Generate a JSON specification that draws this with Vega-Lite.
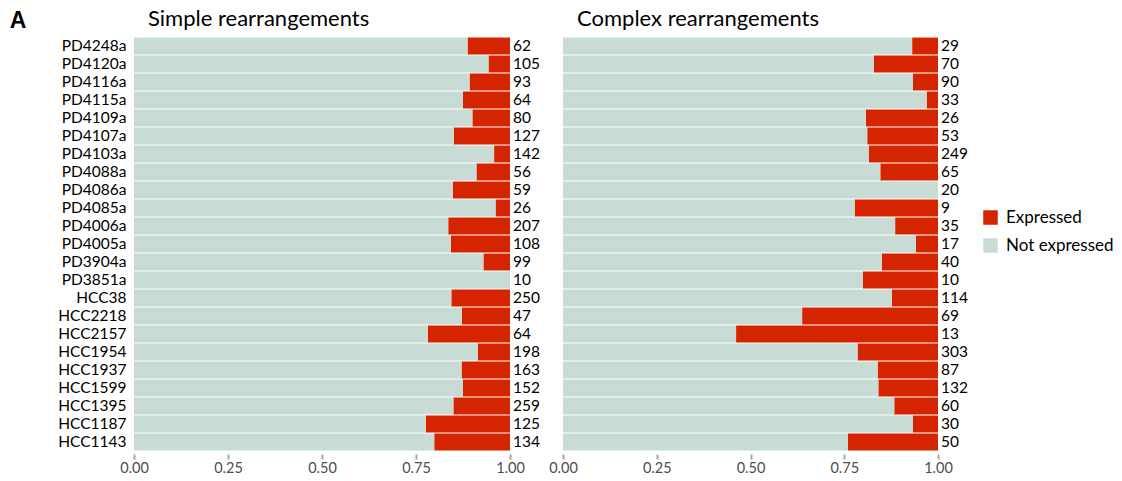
{
  "$schema": "https://vega.github.io/schema/vega-lite/v6.json",
  "padding": {"left": 9, "top": 8, "right": 5, "bottom": 5},
  "background": "white",
  "title": {
    "text": "A",
    "anchor": "start",
    "frame": "bounds",
    "dx": -48,
    "offset": -25,
    "fontSize": 23,
    "fontWeight": "bold",
    "font": "Liberation Sans",
    "color": "black"
  },
  "config": {
    "font": "Lato",
    "view": {"stroke": null},
    "concat": {"spacing": 53},
    "legend": {
      "orient": "none",
      "legendX": 848,
      "legendY": 172,
      "title": null,
      "symbolType": "square",
      "symbolSize": 210,
      "symbolStrokeWidth": 0,
      "labelFontSize": 17,
      "labelColor": "black",
      "rowPadding": 10,
      "labelOffset": 7
    }
  },
  "bounds": "flush",
  "data": {
    "values": [
      {"panel": "Simple", "sample": "PD4248a", "status": "Expressed", "count": 7},
      {"panel": "Simple", "sample": "PD4248a", "status": "Not expressed", "count": 55},
      {"panel": "Simple", "sample": "PD4120a", "status": "Expressed", "count": 6},
      {"panel": "Simple", "sample": "PD4120a", "status": "Not expressed", "count": 99},
      {"panel": "Simple", "sample": "PD4116a", "status": "Expressed", "count": 10},
      {"panel": "Simple", "sample": "PD4116a", "status": "Not expressed", "count": 83},
      {"panel": "Simple", "sample": "PD4115a", "status": "Expressed", "count": 8},
      {"panel": "Simple", "sample": "PD4115a", "status": "Not expressed", "count": 56},
      {"panel": "Simple", "sample": "PD4109a", "status": "Expressed", "count": 8},
      {"panel": "Simple", "sample": "PD4109a", "status": "Not expressed", "count": 72},
      {"panel": "Simple", "sample": "PD4107a", "status": "Expressed", "count": 19},
      {"panel": "Simple", "sample": "PD4107a", "status": "Not expressed", "count": 108},
      {"panel": "Simple", "sample": "PD4103a", "status": "Expressed", "count": 6},
      {"panel": "Simple", "sample": "PD4103a", "status": "Not expressed", "count": 136},
      {"panel": "Simple", "sample": "PD4088a", "status": "Expressed", "count": 5},
      {"panel": "Simple", "sample": "PD4088a", "status": "Not expressed", "count": 51},
      {"panel": "Simple", "sample": "PD4086a", "status": "Expressed", "count": 9},
      {"panel": "Simple", "sample": "PD4086a", "status": "Not expressed", "count": 50},
      {"panel": "Simple", "sample": "PD4085a", "status": "Expressed", "count": 1},
      {"panel": "Simple", "sample": "PD4085a", "status": "Not expressed", "count": 25},
      {"panel": "Simple", "sample": "PD4006a", "status": "Expressed", "count": 34},
      {"panel": "Simple", "sample": "PD4006a", "status": "Not expressed", "count": 173},
      {"panel": "Simple", "sample": "PD4005a", "status": "Expressed", "count": 17},
      {"panel": "Simple", "sample": "PD4005a", "status": "Not expressed", "count": 91},
      {"panel": "Simple", "sample": "PD3904a", "status": "Expressed", "count": 7},
      {"panel": "Simple", "sample": "PD3904a", "status": "Not expressed", "count": 92},
      {"panel": "Simple", "sample": "PD3851a", "status": "Expressed", "count": 0},
      {"panel": "Simple", "sample": "PD3851a", "status": "Not expressed", "count": 10},
      {"panel": "Simple", "sample": "HCC38", "status": "Expressed", "count": 39},
      {"panel": "Simple", "sample": "HCC38", "status": "Not expressed", "count": 211},
      {"panel": "Simple", "sample": "HCC2218", "status": "Expressed", "count": 6},
      {"panel": "Simple", "sample": "HCC2218", "status": "Not expressed", "count": 41},
      {"panel": "Simple", "sample": "HCC2157", "status": "Expressed", "count": 14},
      {"panel": "Simple", "sample": "HCC2157", "status": "Not expressed", "count": 50},
      {"panel": "Simple", "sample": "HCC1954", "status": "Expressed", "count": 17},
      {"panel": "Simple", "sample": "HCC1954", "status": "Not expressed", "count": 181},
      {"panel": "Simple", "sample": "HCC1937", "status": "Expressed", "count": 21},
      {"panel": "Simple", "sample": "HCC1937", "status": "Not expressed", "count": 142},
      {"panel": "Simple", "sample": "HCC1599", "status": "Expressed", "count": 19},
      {"panel": "Simple", "sample": "HCC1599", "status": "Not expressed", "count": 133},
      {"panel": "Simple", "sample": "HCC1395", "status": "Expressed", "count": 39},
      {"panel": "Simple", "sample": "HCC1395", "status": "Not expressed", "count": 220},
      {"panel": "Simple", "sample": "HCC1187", "status": "Expressed", "count": 28},
      {"panel": "Simple", "sample": "HCC1187", "status": "Not expressed", "count": 97},
      {"panel": "Simple", "sample": "HCC1143", "status": "Expressed", "count": 27},
      {"panel": "Simple", "sample": "HCC1143", "status": "Not expressed", "count": 107},
      {"panel": "Complex", "sample": "PD4248a", "status": "Expressed", "count": 2},
      {"panel": "Complex", "sample": "PD4248a", "status": "Not expressed", "count": 27},
      {"panel": "Complex", "sample": "PD4120a", "status": "Expressed", "count": 12},
      {"panel": "Complex", "sample": "PD4120a", "status": "Not expressed", "count": 58},
      {"panel": "Complex", "sample": "PD4116a", "status": "Expressed", "count": 6},
      {"panel": "Complex", "sample": "PD4116a", "status": "Not expressed", "count": 84},
      {"panel": "Complex", "sample": "PD4115a", "status": "Expressed", "count": 1},
      {"panel": "Complex", "sample": "PD4115a", "status": "Not expressed", "count": 32},
      {"panel": "Complex", "sample": "PD4109a", "status": "Expressed", "count": 5},
      {"panel": "Complex", "sample": "PD4109a", "status": "Not expressed", "count": 21},
      {"panel": "Complex", "sample": "PD4107a", "status": "Expressed", "count": 10},
      {"panel": "Complex", "sample": "PD4107a", "status": "Not expressed", "count": 43},
      {"panel": "Complex", "sample": "PD4103a", "status": "Expressed", "count": 46},
      {"panel": "Complex", "sample": "PD4103a", "status": "Not expressed", "count": 203},
      {"panel": "Complex", "sample": "PD4088a", "status": "Expressed", "count": 10},
      {"panel": "Complex", "sample": "PD4088a", "status": "Not expressed", "count": 55},
      {"panel": "Complex", "sample": "PD4086a", "status": "Expressed", "count": 0},
      {"panel": "Complex", "sample": "PD4086a", "status": "Not expressed", "count": 20},
      {"panel": "Complex", "sample": "PD4085a", "status": "Expressed", "count": 2},
      {"panel": "Complex", "sample": "PD4085a", "status": "Not expressed", "count": 7},
      {"panel": "Complex", "sample": "PD4006a", "status": "Expressed", "count": 4},
      {"panel": "Complex", "sample": "PD4006a", "status": "Not expressed", "count": 31},
      {"panel": "Complex", "sample": "PD4005a", "status": "Expressed", "count": 1},
      {"panel": "Complex", "sample": "PD4005a", "status": "Not expressed", "count": 16},
      {"panel": "Complex", "sample": "PD3904a", "status": "Expressed", "count": 6},
      {"panel": "Complex", "sample": "PD3904a", "status": "Not expressed", "count": 34},
      {"panel": "Complex", "sample": "PD3851a", "status": "Expressed", "count": 2},
      {"panel": "Complex", "sample": "PD3851a", "status": "Not expressed", "count": 8},
      {"panel": "Complex", "sample": "HCC38", "status": "Expressed", "count": 14},
      {"panel": "Complex", "sample": "HCC38", "status": "Not expressed", "count": 100},
      {"panel": "Complex", "sample": "HCC2218", "status": "Expressed", "count": 25},
      {"panel": "Complex", "sample": "HCC2218", "status": "Not expressed", "count": 44},
      {"panel": "Complex", "sample": "HCC2157", "status": "Expressed", "count": 7},
      {"panel": "Complex", "sample": "HCC2157", "status": "Not expressed", "count": 6},
      {"panel": "Complex", "sample": "HCC1954", "status": "Expressed", "count": 65},
      {"panel": "Complex", "sample": "HCC1954", "status": "Not expressed", "count": 238},
      {"panel": "Complex", "sample": "HCC1937", "status": "Expressed", "count": 14},
      {"panel": "Complex", "sample": "HCC1937", "status": "Not expressed", "count": 73},
      {"panel": "Complex", "sample": "HCC1599", "status": "Expressed", "count": 21},
      {"panel": "Complex", "sample": "HCC1599", "status": "Not expressed", "count": 111},
      {"panel": "Complex", "sample": "HCC1395", "status": "Expressed", "count": 7},
      {"panel": "Complex", "sample": "HCC1395", "status": "Not expressed", "count": 53},
      {"panel": "Complex", "sample": "HCC1187", "status": "Expressed", "count": 2},
      {"panel": "Complex", "sample": "HCC1187", "status": "Not expressed", "count": 28},
      {"panel": "Complex", "sample": "HCC1143", "status": "Expressed", "count": 12},
      {"panel": "Complex", "sample": "HCC1143", "status": "Not expressed", "count": 38}
    ]
  },
  "hconcat": [
    {
      "width": 376,
      "height": 414,
      "title": {"text": "Simple rearrangements", "anchor": "start", "frame": "group", "dx": 14, "fontSize": 22, "fontWeight": "normal", "color": "black", "offset": 6},
      "transform": [{"filter": "datum.panel === 'Simple'"}],
      "layer": [
        {
          "mark": {"type": "bar"},
          "encoding": {
            "y": {
              "field": "sample", "type": "nominal",
              "sort": ["PD4248a","PD4120a","PD4116a","PD4115a","PD4109a","PD4107a","PD4103a","PD4088a","PD4086a","PD4085a","PD4006a","PD4005a","PD3904a","PD3851a","HCC38","HCC2218","HCC2157","HCC1954","HCC1937","HCC1599","HCC1395","HCC1187","HCC1143"],
              "scale": {"paddingInner": 0.06, "paddingOuter": 0.03},
              "axis": {"title": null, "ticks": false, "domain": false, "labelFontSize": 15.5, "labelColor": "black", "labelPadding": 8}
            },
            "x": {
              "aggregate": "sum", "field": "count", "type": "quantitative", "stack": "normalize",
              "scale": {"domain": [0, 1], "nice": false},
              "axis": {"title": null, "values": [0, 0.25, 0.5, 0.75, 1], "labelExpr": "format(datum.value, '.2f')", "grid": false, "domain": false, "tickColor": "#a6a6a6", "tickSize": 5, "tickWidth": 2, "offset": 3, "labelFontSize": 14.5, "labelColor": "#4d4d4d", "labelPadding": 2, "labelFlush": false}
            },
            "color": {
              "field": "status", "type": "nominal",
              "scale": {"domain": ["Expressed", "Not expressed"], "range": ["#d42400", "#c8dcd5"]}
            },
            "order": {"field": "status", "sort": "descending"}
          }
        },
        {
          "mark": {"type": "text", "align": "left", "baseline": "middle", "dx": 3, "fontSize": 15.5, "color": "black"},
          "encoding": {
            "y": {"field": "sample", "type": "nominal", "sort": ["PD4248a","PD4120a","PD4116a","PD4115a","PD4109a","PD4107a","PD4103a","PD4088a","PD4086a","PD4085a","PD4006a","PD4005a","PD3904a","PD3851a","HCC38","HCC2218","HCC2157","HCC1954","HCC1937","HCC1599","HCC1395","HCC1187","HCC1143"]},
            "x": {"datum": 1},
            "text": {"aggregate": "sum", "field": "count", "type": "quantitative"}
          }
        }
      ]
    },
    {
      "width": 375,
      "height": 414,
      "title": {"text": "Complex rearrangements", "anchor": "start", "frame": "group", "dx": 14, "fontSize": 22, "fontWeight": "normal", "color": "black", "offset": 6},
      "transform": [{"filter": "datum.panel === 'Complex'"}],
      "layer": [
        {
          "mark": {"type": "bar"},
          "encoding": {
            "y": {
              "field": "sample", "type": "nominal",
              "sort": ["PD4248a","PD4120a","PD4116a","PD4115a","PD4109a","PD4107a","PD4103a","PD4088a","PD4086a","PD4085a","PD4006a","PD4005a","PD3904a","PD3851a","HCC38","HCC2218","HCC2157","HCC1954","HCC1937","HCC1599","HCC1395","HCC1187","HCC1143"],
              "scale": {"paddingInner": 0.06, "paddingOuter": 0.03},
              "axis": null
            },
            "x": {
              "aggregate": "sum", "field": "count", "type": "quantitative", "stack": "normalize",
              "scale": {"domain": [0, 1], "nice": false},
              "axis": {"title": null, "values": [0, 0.25, 0.5, 0.75, 1], "labelExpr": "format(datum.value, '.2f')", "grid": false, "domain": false, "tickColor": "#a6a6a6", "tickSize": 5, "tickWidth": 2, "offset": 3, "labelFontSize": 14.5, "labelColor": "#4d4d4d", "labelPadding": 2, "labelFlush": false}
            },
            "color": {
              "field": "status", "type": "nominal",
              "scale": {"domain": ["Expressed", "Not expressed"], "range": ["#d42400", "#c8dcd5"]}
            },
            "order": {"field": "status", "sort": "descending"}
          }
        },
        {
          "mark": {"type": "text", "align": "left", "baseline": "middle", "dx": 3, "fontSize": 15.5, "color": "black"},
          "encoding": {
            "y": {"field": "sample", "type": "nominal", "sort": ["PD4248a","PD4120a","PD4116a","PD4115a","PD4109a","PD4107a","PD4103a","PD4088a","PD4086a","PD4085a","PD4006a","PD4005a","PD3904a","PD3851a","HCC38","HCC2218","HCC2157","HCC1954","HCC1937","HCC1599","HCC1395","HCC1187","HCC1143"]},
            "x": {"datum": 1},
            "text": {"aggregate": "sum", "field": "count", "type": "quantitative"}
          }
        }
      ]
    }
  ]
}
